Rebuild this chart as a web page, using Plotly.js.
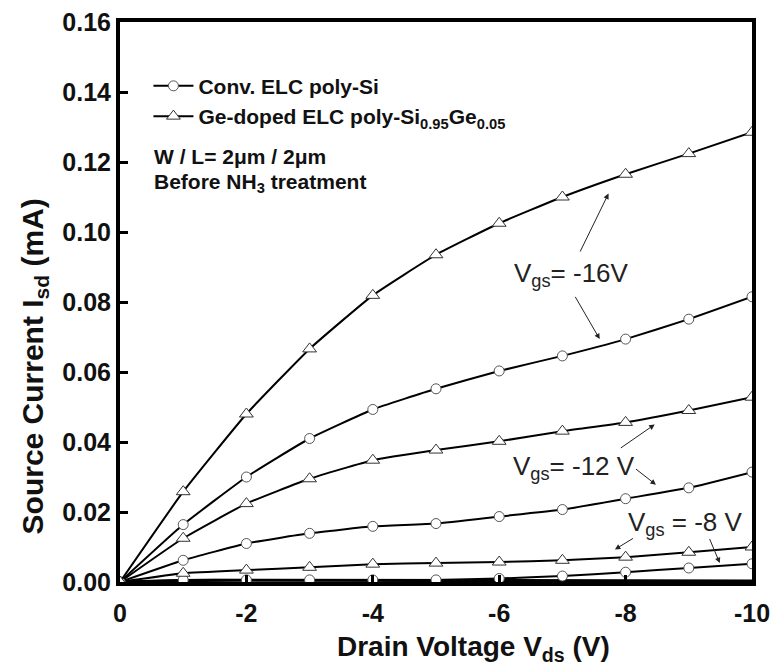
<!DOCTYPE html>
<html>
<head>
<meta charset="utf-8">
<script src="https://cdn.plot.ly/plotly-3.0.1.min.js"></script>
<style>html,body{margin:0;padding:0;background:#fff;}#chart{width:772px;height:668px;}</style>
</head>
<body>
<div id="chart"></div>
<script>
// Drain voltage (V)
var vds = [0, -1, -2, -3, -4, -5, -6, -7, -8, -9, -10];
var xTickVals = [0, -2, -4, -6, -8, -10];
var xTickText = ["0", "-2", "-4", "-6", "-8", "-10"];
var yTickVals = [0, 0.02, 0.04, 0.06, 0.08, 0.10, 0.12, 0.14, 0.16];

// Source current (mA), Ge-doped ELC poly-Si0.95Ge0.05 (triangles)
var geVgs16 = [0, 0.0258, 0.048, 0.0666, 0.0819, 0.0935, 0.1025, 0.110, 0.1165, 0.1224, 0.1285];
var geVgs12 = [0, 0.0125, 0.0224, 0.0295, 0.0348, 0.0377, 0.0402, 0.0431, 0.0456, 0.049, 0.0528];
var geVgs8  = [0, 0.0025, 0.0034, 0.0042, 0.0051, 0.0054, 0.0057, 0.0062, 0.0071, 0.0085, 0.0100];
var geVgs4  = [0, 0.0004, 0.0005, 0.0005, 0.0005, 0.0005, 0.0005, 0.0004, 0.0003, 0.0003, 0.0003];

// Source current (mA), Conv. ELC poly-Si (circles)
var siVgs16 = [0, 0.0164, 0.030, 0.041, 0.0493, 0.0552, 0.0603, 0.0646, 0.0694, 0.0751, 0.0815];
var siVgs12 = [0, 0.0062, 0.011, 0.0139, 0.0159, 0.0167, 0.0187, 0.0207, 0.0238, 0.0269, 0.0314];
var siVgs8  = [0, 0.0006, 0.0006, 0.0006, 0.0006, 0.0006, 0.0010, 0.0017, 0.0028, 0.0040, 0.0052];

var lineStyle = {color: '#000', width: 2, shape: 'spline', smoothing: 0.4};
function circ(y, show) {
  return {x: vds, y: y, type: 'scatter', mode: 'lines+markers', name: 'Conv. ELC poly-Si',
    showlegend: show, legendrank: 1, line: lineStyle,
    marker: {symbol: 'circle', size: 10, color: '#fff', line: {color: '#555', width: 1}}};
}
function tri(y, show) {
  return {x: vds, y: y, type: 'scatter', mode: 'lines+markers',
    name: 'Ge-doped ELC poly-Si<sub>0.95</sub>Ge<sub>0.05</sub>',
    showlegend: show, legendrank: 2, line: lineStyle,
    marker: {symbol: 'triangle-up', size: 12, color: '#fff', line: {color: '#333', width: 1}}};
}
var traces = [
  {x: vds, y: geVgs4, type: 'scatter', mode: 'lines', showlegend: false,
   line: {color: '#000', width: 3}},
  circ(siVgs8, false), tri(geVgs8, false),
  circ(siVgs12, false), tri(geVgs12, false),
  circ(siVgs16, true), tri(geVgs16, true)
];

var FAM = 'Arial, Liberation Sans, sans-serif';
var bold = {family: FAM, size: 21, color: '#111', weight: 'bold'};
var label = {family: FAM, size: 26, color: '#222'};
var xTitleFont = {family: FAM, size: 28, color: '#111', weight: 'bold'};
var yTitleFont = {family: FAM, size: 30, color: '#111', weight: 'bold'};
function arrow(x, y, ax, ay) {
  return {x: x, y: y, ax: ax, ay: ay, xref: 'x', yref: 'y', axref: 'x', ayref: 'y',
    text: '', showarrow: true, arrowhead: 2, arrowsize: 1.1, arrowwidth: 1, arrowcolor: '#222'};
}
var layout = {
  width: 772, height: 668,
  margin: {l: 120, r: 20, t: 22, b: 86},
  paper_bgcolor: '#fff', plot_bgcolor: '#fff',
  showlegend: true,
  legend: {x: 0.045, y: 0.922, xanchor: 'left', yanchor: 'top', bgcolor: 'rgba(0,0,0,0)',
    font: bold, itemwidth: 40, tracegroupgap: 0},
  xaxis: {range: [0, -10], tickvals: xTickVals, ticktext: xTickText,
    showgrid: false, zeroline: false, showline: true, linecolor: '#000', linewidth: 4, mirror: true,
    ticks: 'inside', ticklen: 7, tickwidth: 3, tickcolor: '#000', ticklabelstandoff: 6,
    tickfont: {family: FAM, size: 25, color: '#111', weight: 'bold'},
    title: {text: ''}},
  yaxis: {range: [0, 0.16], tickvals: yTickVals, tickformat: '.2f',
    showgrid: false, zeroline: false, showline: true, linecolor: '#000', linewidth: 4, mirror: true,
    ticks: 'inside', ticklen: 8, tickwidth: 3, tickcolor: '#000',
    tickfont: {family: FAM, size: 25, color: '#111', weight: 'bold'},
    title: {text: ''}},
  annotations: [
    {x: 0.559, y: -0.118, xref: 'paper', yref: 'paper', xanchor: 'center', yanchor: 'middle',
     text: 'Drain Voltage V<sub>ds</sub> (V)', showarrow: false, font: xTitleFont},
    {x: -0.136, y: 0.385, xref: 'paper', yref: 'paper', xanchor: 'center', yanchor: 'middle',
     textangle: -90, text: 'Source Current I<sub>sd</sub> (mA)', showarrow: false, font: yTitleFont},
    {x: 0.05, y: 0.759, xref: 'paper', yref: 'paper', xanchor: 'left', yanchor: 'middle',
     text: 'W / L= 2\u03bcm / 2\u03bcm', showarrow: false, font: bold},
    {x: 0.05, y: 0.712, xref: 'paper', yref: 'paper', xanchor: 'left', yanchor: 'middle',
     text: 'Before NH<sub>3</sub> treatment', showarrow: false, font: bold},
    {x: -7.14, y: 0.0878, xref: 'x', yref: 'y', text: 'V<sub>gs</sub>= -16V', showarrow: false, font: label},
    {x: -7.19, y: 0.0326, xref: 'x', yref: 'y', text: 'V<sub>gs</sub>= -12 V', showarrow: false, font: label},
    {x: -8.95, y: 0.0167, xref: 'x', yref: 'y', text: 'V<sub>gs</sub> = -8 V', showarrow: false, font: label},
    arrow(-7.73, 0.111, -7.27, 0.094),
    arrow(-7.59, 0.0694, -7.19, 0.0819),
    arrow(-8.46, 0.045, -7.90, 0.038),
    arrow(-8.48, 0.0278, -8.14, 0.0326),
    arrow(-7.83, 0.0093, -8.14, 0.0127),
    arrow(-9.49, 0.0054, -9.32, 0.0127)
  ]
};
Plotly.newPlot('chart', traces, layout, {displayModeBar: false, staticPlot: true});
</script>
</body>
</html>
